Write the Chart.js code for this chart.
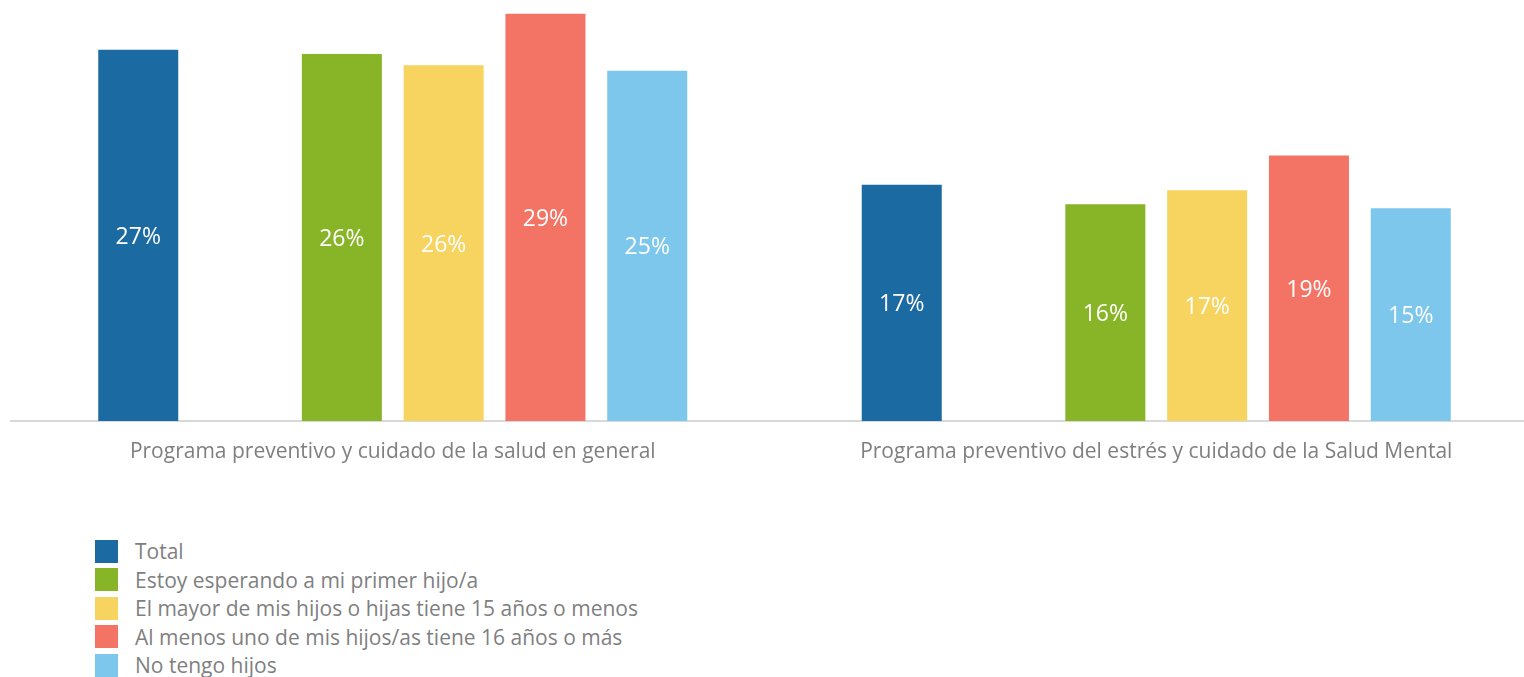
<!DOCTYPE html>
<html>
<head>
<meta charset="utf-8">
<script src="https://cdn.jsdelivr.net/npm/chart.js@4.4.0/dist/chart.umd.min.js"></script>
<style>
  html, body { margin: 0; padding: 0; background: #fff; overflow: hidden; width: 1524px; height: 677px; }
  #wrap { position: absolute; left: 0; top: 0; width: 1540px; height: 485px; }
  #legend { position: absolute; left: 95px; top: 537px; font-family: 'Open Sans', sans-serif; font-size: 21px; color: #7f7f7f; }
  #legend div { height: 28.5px; display: flex; align-items: center; white-space: nowrap; }
  #legend span.box { display: inline-block; width: 23px; height: 23px; margin-right: 17px; }
</style>
</head>
<body>
<div id="wrap"><canvas id="chart"></canvas></div>
<div id="legend"></div>
<script>
  const categories = [
    'Programa preventivo y cuidado de la salud en general',
    'Programa preventivo del estrés y cuidado de la Salud Mental'
  ];
  const seriesNames = [
    'Total',
    '',
    'Estoy esperando a mi primer hijo/a',
    'El mayor de mis hijos o hijas tiene 15 años o menos',
    'Al menos uno de mis hijos/as tiene 16 años o más',
    'No tengo hijos'
  ];
  const total = [0.267, 0.170];
  const gap = [null, null];
  const esperando = [0.264, 0.156];
  const menores15 = [0.256, 0.166];
  const mayores16 = [0.293, 0.191];
  const sinHijos = [0.252, 0.153];
  const colors = ['#1c6aa2', 'rgba(0,0,0,0)', '#88b527', '#f7d35f', '#f37364', '#7dc7ec'];

  const values = [total, gap, esperando, menores15, mayores16, sinHijos];

  const labelPlugin = {
    id: 'barLabels',
    afterDatasetsDraw(chart) {
      const ctx = chart.ctx;
      ctx.save();
      ctx.font = '23px "Open Sans", sans-serif';
      ctx.fillStyle = '#ffffff';
      ctx.textAlign = 'center';
      ctx.textBaseline = 'middle';
      chart.data.datasets.forEach((ds, i) => {
        const meta = chart.getDatasetMeta(i);
        meta.data.forEach((bar, j) => {
          const v = ds.data[j];
          if (v == null) return;
          const mid = (bar.y + bar.base) / 2;
          ctx.fillText(Math.round(v * 100) + '%', bar.x, mid + 2);
        });
      });
      ctx.restore();
    }
  };

  const ctx = document.getElementById('chart').getContext('2d');
  const chart = new Chart(ctx, {
    type: 'bar',
    data: {
      labels: categories,
      datasets: values.map((d, i) => ({
        label: seriesNames[i],
        data: d,
        backgroundColor: colors[i],
        barPercentage: 0.786,
        categoryPercentage: 0.8
      }))
    },
    options: {
      responsive: true,
      maintainAspectRatio: false,
      animation: false,
      layout: { padding: { left: 11, right: 2, top: 4, bottom: 0 } },
      plugins: { legend: { display: false }, tooltip: { enabled: false } },
      scales: {
        x: {
          grid: { display: false, drawTicks: false },
          border: { color: '#d9d9d9', width: 2 },
          afterFit: (scale) => { scale.height = 64; },
          ticks: {
            color: '#7f7f7f',
            padding: 18,
            font: { family: 'Open Sans', size: 21 },
            maxRotation: 0
          }
        },
        y: {
          display: false,
          min: 0,
          max: 0.3
        }
      }
    },
    plugins: [labelPlugin]
  });

  const legend = document.getElementById('legend');
  seriesNames.forEach((name, i) => {
    if (!name) return;
    const row = document.createElement('div');
    row.innerHTML = '<span class="box" style="background:' + colors[i] + '"></span>' + name;
    legend.appendChild(row);
  });
</script>
</body>
</html>
